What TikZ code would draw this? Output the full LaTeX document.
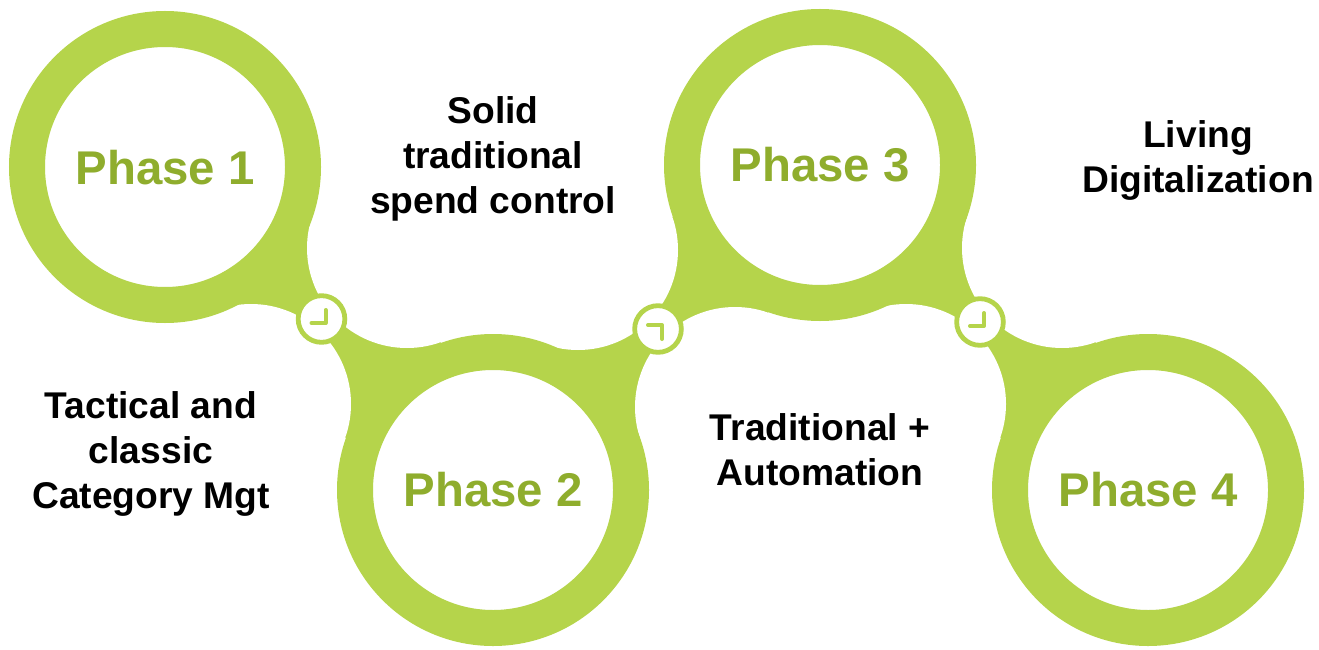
\documentclass[tikz,border=0pt]{standalone}
\usepackage{fontspec}
\setmainfont{Liberation Sans}
\definecolor{ringgreen}{RGB}{181,212,75}
\definecolor{phasegreen}{RGB}{143,173,45}

\begin{document}
\begin{tikzpicture}[
    x=0.75pt,
    y=-0.75pt,
    phase ring/.style={circle, draw=ringgreen, fill=white, line width=27pt, minimum size=207pt, inner sep=0pt,
        text=phasegreen, font=\fontsize{35.5}{35.5}\selectfont\bfseries},
    clock face/.style={circle, draw=ringgreen, fill=white, line width=3.6pt, minimum size=35pt, inner sep=0pt},
    clock hand/.style={draw=ringgreen, line width=3pt, line cap=round, line join=round},
    gap circle/.style={fill=white},
    phase label/.style={align=center, font=\fontsize{27.9}{33.7}\selectfont\bfseries}
]
    \useasboundingbox (0,0) rectangle (1319,649);

    % Centres of the four phases
    \coordinate (centerA) at (165,167);
    \coordinate (centerB) at (493,490);
    \coordinate (centerC) at (820,165);
    \coordinate (centerD) at (1148,490);

    % Centres of the white hollows beside each link
    \coordinate (hollowAB) at (407,248);
    \coordinate (hollowBA) at (251,404);
    \coordinate (hollowBC) at (578,250);
    \coordinate (hollowCB) at (735,407);
    \coordinate (hollowCD) at (1062,248);
    \coordinate (hollowDC) at (906,404);

    % Green webs between the rings
    \fill[ringgreen] (centerA) -- (hollowAB) -- (centerB) -- (hollowBA) -- cycle;
    \fill[ringgreen] (centerB) -- (hollowBC) -- (centerC) -- (hollowCB) -- cycle;
    \fill[ringgreen] (centerC) -- (hollowCD) -- (centerD) -- (hollowDC) -- cycle;
    \foreach \hollow in {hollowAB,hollowBA,hollowBC,hollowCB,hollowCD,hollowDC}
        \fill[gap circle] (\hollow) circle (100);

    % Rings
    \node[phase ring, text height=27pt] (phaseA) at (centerA) {Phase 1};
    \node[phase ring] (phaseB) at (centerB) {Phase 2};
    \node[phase ring] (phaseC) at (centerC) {Phase 3};
    \node[phase ring] (phaseD) at (centerD) {Phase 4};

    % Clocks on the links
    \node[clock face] (clockA) at (321.5,319) {};
    \node[clock face] (clockB) at (658,329) {};
    \node[clock face] (clockC) at (980,322) {};
    \draw[clock hand] ([shift={(4,-9)}]clockA.center) -- ([shift={(4,4)}]clockA.center) -- ([shift={(-10,4)}]clockA.center);
    \draw[clock hand] ([shift={(-10,-4)}]clockB.center) -- ([shift={(4,-4)}]clockB.center) -- ([shift={(4,10)}]clockB.center);
    \draw[clock hand] ([shift={(4,-9)}]clockC.center) -- ([shift={(4,4)}]clockC.center) -- ([shift={(-10,4)}]clockC.center);

    % Labels
    \node[phase label] (labelA) at (151,454) {Tactical and\\classic\\Category Mgt};
    \node[phase label] (labelB) at (493,159) {Solid\\traditional\\spend control};
    \node[phase label] (labelC) at (820,450) {Traditional +\\Automation};
    \node[phase label] (labelD) at (1198,160) {Living\\Digitalization};
\end{tikzpicture}
\end{document}
